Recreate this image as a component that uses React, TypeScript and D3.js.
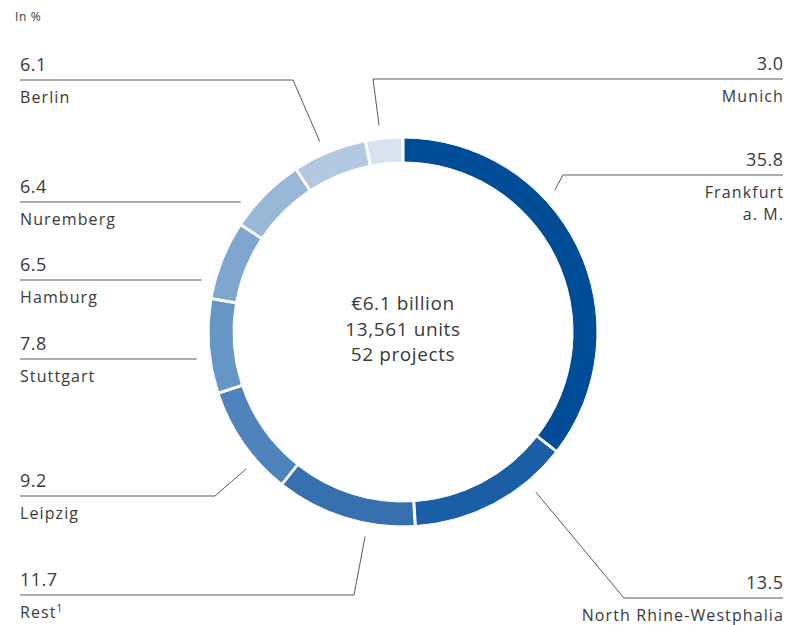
import React from "react";
import * as d3 from "d3";

const regions = ["Frankfurt a. M.", "North Rhine-Westphalia", "Rest", "Leipzig", "Stuttgart", "Hamburg", "Nuremberg", "Berlin", "Munich"];
const shares = [35.8, 13.5, 11.7, 9.2, 7.8, 6.5, 6.4, 6.1, 3.0];
const shareLabels = ["35.8", "13.5", "11.7", "9.2", "7.8", "6.5", "6.4", "6.1", "3.0"];
const nameLines = [["Frankfurt", "a. M."], ["North Rhine-Westphalia"], ["Rest"], ["Leipzig"], ["Stuttgart"], ["Hamburg"], ["Nuremberg"], ["Berlin"], ["Munich"]];
const centerLines = ["€6.1 billion", "13,561 units", "52 projects"];
const colors = ["#004c97", "#1a5ea6", "#3670ae", "#4f83bc", "#6696c6", "#7fa6cf", "#99b7d7", "#b3c9e2", "#d9e3f0"];

// layout for each label: side, y of the rule, x of the elbow (null = straight), leader angle (deg, clockwise from top)
const labelLayout = [
  { side: "right", lineY: 175, elbowX: 563, angle: 46.9 },
  { side: "right", lineY: 598, elbowX: 624, angle: 140.3 },
  { side: "left", lineY: 595, elbowX: 354, angle: 190.5 },
  { side: "left", lineY: 496, elbowX: 215, angle: 228.9 },
  { side: "left", lineY: 359, elbowX: null, angle: null },
  { side: "left", lineY: 280, elbowX: null, angle: null },
  { side: "left", lineY: 202, elbowX: null, angle: null },
  { side: "left", lineY: 80, elbowX: 293, angle: 336.4 },
  { side: "right", lineY: 79, elbowX: 373, angle: 353.4 },
];

const W = 787;
const H = 625;
const cx = 403;
const cy = 332;
const outerR = 194;
const innerR = 170;
const leaderR = 208;
const leftX = 20;
const rightX = 783;
const font = "'Open Sans', sans-serif";
const textColor = "#3a3a3a";
const lineColor = "#5a5a5a";

export default function App() {
  const data = regions.map((r, i) => ({ region: r, value: shares[i], i }));
  const pie = d3.pie<any>().value((d) => d.value).sort(null).padAngle(0.008);
  const arcs = pie(data);
  const arc = d3.arc<any>().innerRadius(innerR).outerRadius(outerR);

  return (
    <svg width={W} height={H} style={{ position: "absolute", left: 0, top: 0 }}>
      <rect width={W} height={H} fill="#fff" />
      <text x={15} y={21} fontFamily={font} fontSize={12} letterSpacing={0.6} fill={textColor}>In %</text>
      <g transform={`translate(${cx},${cy})`}>
        {arcs.map((a, i) => (
          <path key={i} d={arc(a) as string} fill={colors[i]} stroke="#fff" strokeWidth={1} />
        ))}
      </g>
      {labelLayout.map((l, i) => {
        const y = l.lineY;
        let pts: [number, number][];
        if (l.angle === null) {
          const dy = y - cy;
          const dx = Math.sqrt(leaderR * leaderR - dy * dy);
          const ex = l.side === "left" ? cx - dx : cx + dx;
          pts = l.side === "left" ? [[leftX, y], [ex, y]] : [[ex, y], [rightX, y]];
        } else {
          const rad = (l.angle * Math.PI) / 180;
          const ex = cx + leaderR * Math.sin(rad);
          const ey = cy - leaderR * Math.cos(rad);
          pts = l.side === "left"
            ? [[leftX, y], [l.elbowX as number, y], [ex, ey]]
            : [[ex, ey], [l.elbowX as number, y], [rightX, y]];
        }
        const tx = l.side === "left" ? leftX : rightX;
        const anchor = l.side === "left" ? "start" : "end";
        return (
          <g key={i}>
            <path d={d3.line()(pts) as string} fill="none" stroke={lineColor} strokeWidth={1} />
            <text x={l.side === "left" ? tx : tx + 0.5} y={y - 9} textAnchor={anchor} fontFamily={font} fontSize={18} letterSpacing={0.5} fill={textColor}>
              {shareLabels[i]}
            </text>
            {nameLines[i].map((n, k) => (
              <text key={k} x={l.side === "left" ? tx : tx + 1} y={y + 23 + k * 22} textAnchor={anchor} fontFamily={font} fontSize={16} letterSpacing={1.1} fill={textColor}>
                {n}
                {regions[i] === "Rest" ? <tspan fontSize={10} dy={-6}>1</tspan> : null}
              </text>
            ))}
          </g>
        );
      })}
      {centerLines.map((t, k) => (
        <text key={k} x={cx} y={310 + k * 25.5} textAnchor="middle" fontFamily={font} fontSize={19} letterSpacing={0.6} fill={textColor}>
          {t}
        </text>
      ))}
    </svg>
  );
}
